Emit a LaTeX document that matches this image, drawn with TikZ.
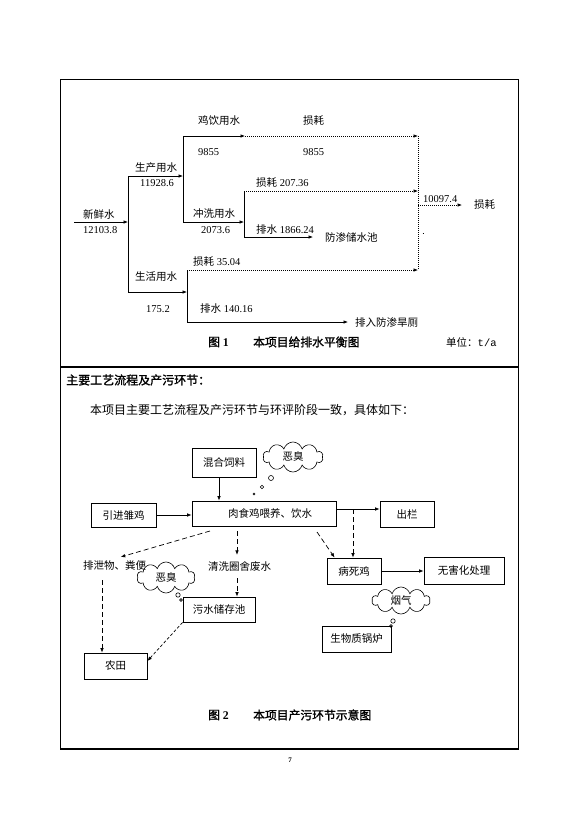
\documentclass[tikz,border=0pt]{standalone}
\usepackage{fontspec}
\setmainfont{Liberation Serif}
\newfontfamily\cjk[AutoFakeBold=1.5]{Noto Sans CJK SC}
\newfontfamily\monof{Liberation Mono}
\usetikzlibrary{arrows.meta,shapes.symbols}
\newcommand\zh[1]{{\cjk #1}}
\tikzset{
  lbl/.style={anchor=west, inner sep=0pt, font=\fontsize{10.5}{12}\selectfont},
  captext/.style={anchor=west, inner sep=0pt, font=\fontsize{11.8}{13}\selectfont\bfseries},
  box/.style={draw, line width=0.8pt, inner sep=0pt, font=\cjk\fontsize{10.5}{12}\selectfont},
  puff/.style={draw, cloud, cloud puffs=10, aspect=2, inner sep=0pt, line width=0.6pt, font=\cjk\fontsize{10.5}{12}\selectfont},
  arr/.style={-{Latex[length=4.5pt,width=3.6pt]}, line width=0.7pt},
  dotarr/.style={arr, dash pattern=on 1pt off 1pt},
  dasharr/.style={arr, dash pattern=on 5pt off 3pt},
  fine/.style={line width=0.7pt},
  dotl/.style={line width=0.7pt, dash pattern=on 1pt off 1pt}
}
\begin{document}
\begin{tikzpicture}[x=1pt,y=-1pt]
\useasboundingbox (0,0) rectangle (571,825);
\fill[white] (0,0) rectangle (571,825);
% frame
\draw[line width=1.3pt] (60.5,79.5) rectangle (518.5,749);
\draw[line width=1.3pt] (60.5,367) -- (518.5,367);

% ---------- Figure 1 ----------
\coordinate (s0) at (74,222);
\coordinate (j1) at (128,222);
\coordinate (j1t) at (128,176);
\coordinate (j1b) at (128,292);
\coordinate (j2t) at (183,136);
\coordinate (j2) at (183,176);
\coordinate (j2b) at (183,222);
\coordinate (a1) at (245,136);
\coordinate (j3) at (244,222);
\coordinate (j3t) at (244,191);
\coordinate (j3b) at (244,237);
\coordinate (e3b) at (313,237);
\coordinate (m1) at (418,136);
\coordinate (m2) at (418,191);
\coordinate (m3) at (418,205);
\coordinate (m4) at (418,270);
\coordinate (out1) at (462,205);
\coordinate (j4) at (187,292);
\coordinate (j4t) at (187,270);
\coordinate (j4b) at (187,322);
\coordinate (e4b) at (348,322);

\draw[arr] (s0) -- (j1);
\draw[fine] (j1t) -- (j1b);
\draw[arr] (j1t) -- (j2);
\draw[fine] (j2t) -- (j2b);
\draw[arr] (j2t) -- (a1);
\draw[dotarr] (a1) -- (m1);
\draw[arr] (j2b) -- (j3);
\draw[fine] (j3t) -- (j3b);
\draw[dotarr] (j3t) -- (m2);
\draw[arr] (j3b) -- (e3b);
\draw[dotl] (m1) -- (m4);
\draw[dotarr] (m3) -- (out1);
\draw[arr] (j1b) -- (j4);
\draw[fine] (j4t) -- (j4b);
\draw[dotarr] (j4t) -- (m4);
\draw[arr] (j4b) -- (e4b);
\draw[line width=0.5pt] (422.5,233) -- (424,233);

\node[lbl] (t1) at (83,215) {\zh{新鲜水}};
\node[lbl] (t2) at (83,230) {12103.8};
\node[lbl] (t3) at (135,168) {\zh{生产用水}};
\node[lbl] (t4) at (140,183) {11928.6};
\node[lbl] (t5) at (198,121) {\zh{鸡饮用水}};
\node[lbl] (t6) at (198,152) {9855};
\node[lbl] (t7) at (303,121) {\zh{损耗}};
\node[lbl] (t8) at (303,152) {9855};
\node[lbl] (t9) at (193,214) {\zh{冲洗用水}};
\node[lbl] (t10) at (201,230) {2073.6};
\node[lbl] (t11) at (256,183) {\zh{损耗} 207.36};
\node[lbl] (t12) at (256,230) {\zh{排水} 1866.24};
\node[lbl] (t13) at (325,237) {\zh{防渗储水池}};
\node[lbl] (t14) at (423,199) {10097.4};
\node[lbl] (t15) at (474,205) {\zh{损耗}};
\node[lbl] (t16) at (193,262) {\zh{损耗} 35.04};
\node[lbl] (t17) at (135,277) {\zh{生活用水}};
\node[lbl] (t18) at (146,309) {175.2};
\node[lbl] (t19) at (200,309) {\zh{排水} 140.16};
\node[lbl] (t20) at (355,322) {\zh{排入防渗旱厕}};
\node[captext] (c1a) at (208,342) {\zh{\bfseries 图} 1};
\node[captext] (c1b) at (253,342) {\zh{\bfseries 本项目给排水平衡图}};
\node[lbl] (c1c) at (446,342) {\zh{单位：}{\monof t/a}};

% ---------- text ----------
\node[anchor=west, inner sep=0pt, font=\fontsize{12}{14}\selectfont] (hd) at (66,380) {\zh{\bfseries 主要工艺流程及产污环节：}};
\node[anchor=west, inner sep=0pt, font=\fontsize{12}{14}\selectfont] (para) at (90,410) {\zh{本项目主要工艺流程及产污环节与环评阶段一致，具体如下：}};

% ---------- Figure 2 ----------
\node[box, minimum width=64pt, minimum height=29pt] (feed) at (224,462.5) {混合饲料};
\node[box, minimum width=144pt, minimum height=25pt] (raise) at (264,513.5) {\hspace*{12pt}肉食鸡喂养、饮水};
\node[box, minimum width=65pt, minimum height=24pt] (chick) at (123.5,515) {引进雏鸡};
\node[box, minimum width=54pt, minimum height=26pt] (outb) at (407,514) {出栏};
\node[box, minimum width=54pt, minimum height=26pt] (dead) at (354,571) {病死鸡};
\node[box, minimum width=80pt, minimum height=27pt] (harm) at (464,570.5) {无害化处理};
\node[box, minimum width=72pt, minimum height=25pt] (pool) at (219,609.5) {污水储存池};
\node[box, minimum width=63pt, minimum height=26pt] (field) at (115.5,666) {农田};
\node[box, minimum width=69pt, minimum height=26pt] (boiler) at (356.5,639) {生物质锅炉};
\node[lbl] (excreta) at (83,566) {\zh{排泄物、粪便}};
\node[lbl] (wash) at (208,566) {\zh{清洗圈舍废水}};

\node[puff, minimum width=60pt, minimum height=30pt] (cl1) at (293,457) {恶臭};
\node[puff, minimum width=58pt, minimum height=31pt] (cl2) at (166,577.5) {恶臭};
\node[puff, minimum width=58pt, minimum height=27pt] (cl3) at (401,600.5) {烟气};
\draw[line width=0.6pt] (271,478) circle (2.5);
\draw[line width=0.6pt] (262,487) circle (1.8);
\draw[line width=0.6pt] (254,494) circle (1);
\draw[line width=0.6pt] (178,595) circle (2.2);
\draw[line width=0.6pt] (181,600) circle (1.4);
\draw[line width=0.6pt] (393,621) circle (2.2);
\draw[line width=0.6pt] (391,626) circle (1.4);

\coordinate (po) at (353,509);
\coordinate (d1s) at (317,532);
\coordinate (d2s) at (210,531);
\coordinate (d3s) at (237,531);
\coordinate (d4s) at (237,578);
\coordinate (d5s) at (102,580);

\draw[arr] ([xshift=-5pt]feed.south) -- ([xshift=-5pt]feed.south |- raise.north);
\draw[arr] (chick.east) -- (chick.east -| raise.west);
\draw[arr] (raise.east |- po) -- (outb.west |- po);
\draw[dasharr] (po) -- (po |- dead.north);
\draw[dasharr] (d1s) -- ([xshift=8pt]dead.north west);
\draw[dasharr] (d2s) -- ([xshift=6pt,yshift=4pt]excreta.north);
\draw[dasharr] (d3s) -- ([yshift=6pt]d3s |- wash.north);
\draw[dasharr] (d4s) -- (d4s |- pool.north);
\draw[dasharr] (d5s) -- (d5s |- field.north);
\draw[arr, dash pattern=on 3pt off 2pt] (pool.south west) -- ([yshift=5pt]field.east);
\draw[arr] (dead.east) -- (dead.east -| harm.west);

\node[captext] (c2a) at (208,715) {\zh{\bfseries 图} 2};
\node[captext] (c2b) at (253,715) {\zh{\bfseries 本项目产污环节示意图}};
\node[inner sep=0pt, font=\fontsize{7}{8}\selectfont\bfseries] (pg) at (290,760) {7};
\end{tikzpicture}
\end{document}
